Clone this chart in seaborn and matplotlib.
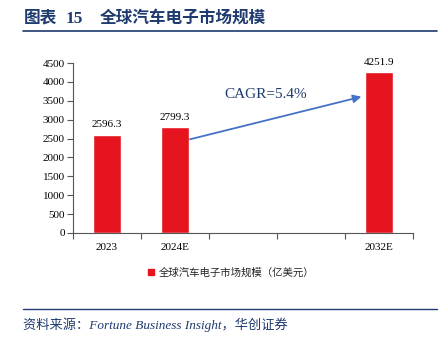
import numpy as np
import pandas as pd
import matplotlib
matplotlib.use("Agg")
import matplotlib.pyplot as plt
import seaborn as sns
from matplotlib.lines import Line2D

categories = ["2023", "2024E", "gap1", "gap2", "2032E"]
tick_labels = ["2023", "2024E", "", "", "2032E"]
bar_cats = ["2023", "2024E", "2032E"]
values = [2596.3, 2799.3, 4251.9]
series_name = "全球汽车电子市场规模（亿美元）"
cagr_text = "CAGR=5.4%"
yticks = [0, 500, 1000, 1500, 2000, 2500, 3000, 3500, 4000, 4500]

sns.set_theme(style="white")
plt.rcParams["font.family"] = ["Liberation Serif", "Noto Sans CJK SC"]

RED = "#E5141E"
NAVY = "#1F3A6E"
ARROW = "#4472C4"

fig = plt.figure(figsize=(4.48, 3.39), dpi=100)
ax = fig.add_axes([0.163, 0.313, 0.759, 0.501])

df = pd.DataFrame({"cat": bar_cats, "val": values})
sns.barplot(data=df, x="cat", y="val", order=categories, color=RED,
            width=0.4, saturation=1, ax=ax)

ax.set_ylim(0, 4500)
ax.set_xlim(-0.5, 4.5)
ax.set_yticks(yticks)
ax.set_yticklabels([str(v) for v in yticks], fontsize=8, color="black")
ax.set_xticks(range(len(categories)))
ax.set_xticklabels(tick_labels, fontsize=8, color="black")
ax.set_xticks(np.arange(-0.5, 4.6, 1.0), minor=True)
ax.tick_params(axis="x", which="major", length=0, pad=7)
ax.tick_params(axis="x", which="minor", length=4, width=0.8, color="#555555", direction="out", bottom=True)
ax.tick_params(axis="y", which="major", length=4, width=0.8, color="#555555", direction="out", left=True, pad=2)
ax.set_xlabel("")
ax.set_ylabel("")
for s in ["top", "right"]:
    ax.spines[s].set_visible(False)
for s in ["left", "bottom"]:
    ax.spines[s].set_color("#555555")
    ax.spines[s].set_linewidth(0.8)

for c, v in zip(bar_cats, values):
    i = categories.index(c)
    ax.text(i, v + 150, f"{v:.1f}", ha="center", va="bottom", fontsize=8, color="black")

ax.annotate("", xy=(3.78, 3626), xytext=(1.18, 2462),
            arrowprops=dict(arrowstyle="-|>", color=ARROW, lw=1.3, mutation_scale=12))
ax.text(1.72, 3660, cagr_text, fontsize=11, color=NAVY, ha="left", va="center")

handle = Line2D([0], [0], marker="s", color="none", markerfacecolor=RED,
                markeredgecolor=RED, markersize=5)
fig.legend([handle], [series_name], loc="center", bbox_to_anchor=(0.515, 1 - 273 / 339),
           frameon=False, handlelength=0.8, handletextpad=0.3,
           prop={"family": ["Noto Sans CJK SC"], "size": 7.5})

# title
ty = 1 - 18 / 339
fig.text(24 / 448, ty, "图表", fontsize=12, fontweight="bold", color=NAVY,
         va="center", ha="left", family=["Noto Sans CJK SC"])
fig.text(66 / 448, ty - 0.003, "15", fontsize=12.5, fontweight="bold", color=NAVY,
         va="center", ha="left", family=["Liberation Serif"])
fig.text(100 / 448, ty, "全球汽车电子市场规模", fontsize=12, fontweight="bold",
         color=NAVY, va="center", ha="left", family=["Noto Sans CJK SC"])
fig.add_artist(Line2D([23 / 448, 437 / 448], [1 - 31 / 339, 1 - 31 / 339],
                      color=NAVY, lw=1.2, transform=fig.transFigure))

# footer
fig.add_artist(Line2D([23 / 448, 437 / 448], [1 - 309 / 339, 1 - 309 / 339],
                      color=NAVY, lw=1.0, transform=fig.transFigure))
fig.text(23 / 448, 1 - 325 / 339, "资料来源：Fortune Business Insight，华创证券", fontsize=9.5,
         style="italic", color=NAVY, va="center", ha="left",
         family=["Liberation Serif", "Noto Sans CJK SC"])

fig.savefig("out.png", dpi=100)
